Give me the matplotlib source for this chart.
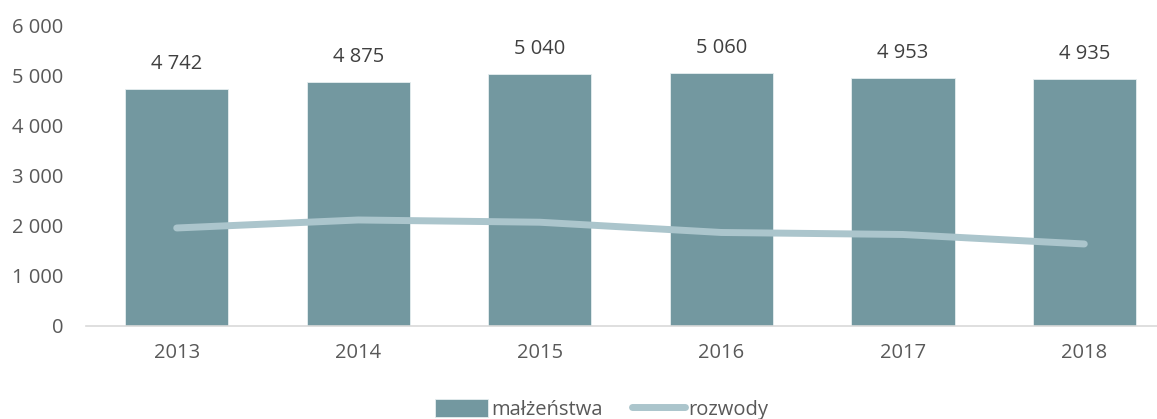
import matplotlib.pyplot as plt
import numpy as np
from matplotlib.ticker import FuncFormatter

# data
years = ['2013', '2014', '2015', '2016', '2017', '2018']
marriages = [4742, 4875, 5040, 5060, 4953, 4935]
divorces = [1960, 2120, 2075, 1870, 1830, 1640]

bar_color = '#7398a0'
line_color = '#abc5cc'
text_color = '#404040'

plt.rcParams['font.family'] = ['Open Sans', 'DejaVu Sans']

fig = plt.figure(figsize=(11.57, 4.19), dpi=100)
ax = fig.add_axes([0.0743, 0.222, 0.9413, 0.716])

x = np.arange(len(years))
bars = ax.bar(x, marriages, width=0.57, color=bar_color, edgecolor='#e6eef0',
              linewidth=0.6, label='małżeństwa', zorder=2)
line, = ax.plot(x, divorces, color=line_color, linewidth=5, solid_capstyle='round',
                label='rozwody', zorder=3)

# value labels over bars
for xi, v in zip(x, marriages):
    ax.annotate(f'{v:,}'.replace(',', ' '), (xi, v), xytext=(0, 11),
                textcoords='offset points', ha='center', va='bottom',
                fontsize=14.5, color=text_color)

ax.set_xlim(-0.5, 5.5)
ax.set_ylim(0, 6000)
ax.set_yticks(range(0, 6001, 1000))
ax.yaxis.set_major_formatter(FuncFormatter(lambda v, p: f'{int(v):,}'.replace(',', ' ')))
ax.set_xticks(x)
ax.set_xticklabels(years)
ax.tick_params(axis='both', length=0, labelsize=14.5, colors='#595959')
ax.tick_params(axis='y', pad=16)
ax.tick_params(axis='x', pad=12)

for side in ['top', 'right', 'left']:
    ax.spines[side].set_visible(False)
ax.spines['bottom'].set_color('#d9d9d9')
ax.spines['bottom'].set_linewidth(1.2)

fig.legend(handles=[bars, line], loc='center', bbox_to_anchor=(0.52, 0.022),
           ncol=2, frameon=False, fontsize=14.5, handlelength=2.6,
           handleheight=1.0, handletextpad=0.15, columnspacing=1.5,
           labelcolor='#595959')

fig.savefig('out.png', dpi=100)
